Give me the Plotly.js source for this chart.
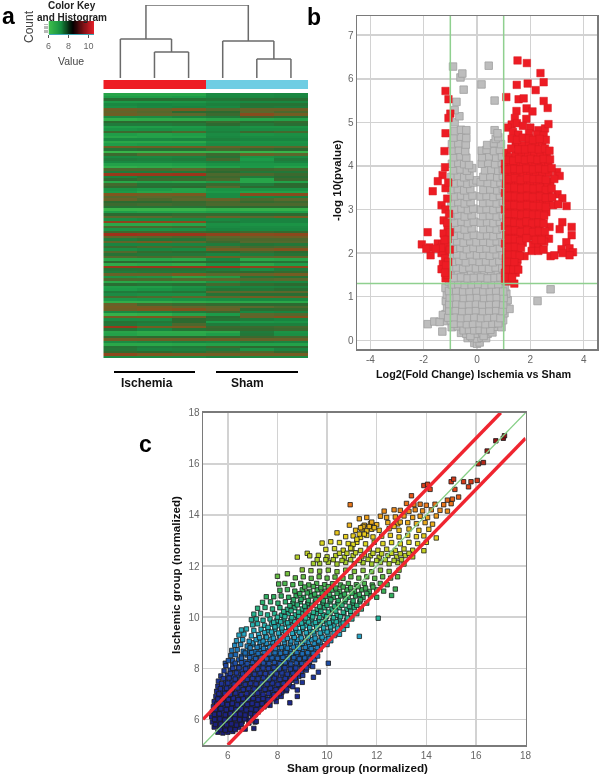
<!DOCTYPE html>
<html><head><meta charset="utf-8">
<script src="https://cdn.plot.ly/plotly-3.0.1.min.js"></script>
<style>html,body{margin:0;padding:0;background:#fff}#chart{width:600px;height:778px;filter:blur(0.5px)}</style>
</head><body><div id="chart"></div>
<script>
// Panel a: heatmap, rows top to bottom, columns I1 I2 I3 S1 S2 S3
const sampleColumns=[0,1,2,3,4,5];
const heatRowsTop=[
[6.5,6.5,6.5,7.2,7.2,7.3],[6.7,6.7,6.8,7.3,7.3,7.4],[7.9,7.9,7.8,7.7,7.9,7.9],[6.8,6.8,6.9,7.2,7.3,7.3],
[7.3,7.4,7.3,7.5,7.8,7.8],[7.1,7.3,7.4,7.3,7.7,7.6],[8.9,8.7,9.1,8.5,8.8,8.9],[8.7,8.5,8,8,8.6,8.4],
[8.9,8.7,8.6,8.2,9.4,9],[7.2,7.2,7.4,7.6,8.2,7.8],[6.2,6.3,6.3,6.5,6.5,6.6],[8,8,8,8.2,8,8.1],
[7.6,7.6,7.7,8,7.7,7.9],[6.7,6.7,6.8,7.2,7,7],[7,7.1,7,7.3,7.2,7.2],[8.2,8.2,8.4,7.5,8.2,8.3],
[6.7,6.6,6.7,7.2,7,7.1],[6.5,6.6,6.6,7.3,7.2,7.2],[7.3,7.3,7.4,7.5,7.4,7.4],[6.4,6.4,6.4,7,7,7],
[6.7,6.8,6.8,7.2,7.1,7.1],[8.9,8.9,9,8.8,8.8,8.6],[7.8,7.9,7.9,8.3,8.1,8],[5.9,5.9,6,6.1,6,6],
[8.2,8.5,8.5,8.2,8.8,8.6],[7.3,7.3,7.4,7.8,7,7.2],[7.6,7.5,7.6,8.3,6.8,7.6],[7.3,7.3,7.3,7.4,7.1,7.4],
[6.6,6.6,6.7,7,6.9,6.9],[6.2,6.3,6.4,6.6,6.8,6.6],[8.4,8.4,8.6,8.2,8.2,8.3],[7.6,7.6,7.7,8,7.7,7.7],
[9.8,9.8,9.9,8.4,8.4,8.2]];
const heatRowsMiddle=[
[7.5,7.8,7.8,8.2,7.6,7.9],[8,8.2,8.2,8.4,6.5,8.2],[6.4,6.6,6.5,6.8,6.5,6.6],[8.3,7.8,7.8,8.2,7.6,8],
[8.1,7.9,8,8.5,8,8],[7,6.8,6.6,7,7,7],[6.8,6.5,6.6,6.8,6.6,6.6],[9.2,9,9.1,7.2,9.4,9.4],
[8.5,8.6,8.5,7.2,7.4,7.5],[8.8,8.4,8.6,8.8,8.4,8.6],[8,8,8.1,8.3,8.1,8.2],[8.2,8.3,8.2,8.4,8.4,8.4],
[7.8,7.8,7.8,8,8,8],[5.9,6,6,6.2,6.1,6.1],[6.7,6.6,6.6,6.7,6.7,6.7],[8,8,8.1,8.1,8,8],
[8.6,8.6,8.4,8.8,8.6,9],[7.2,7.3,7.3,7.3,7.4,7.4],[9.6,9.5,9.4,7.6,7.4,7.4],[6.4,6.4,6.5,7.1,7,7],
[8.4,8.4,8.3,7.2,7.2,7.2],[7,7,7.1,7.4,7.3,7.3],[8.2,8.2,8.2,8.1,8.2,8.1],[10,9.9,9.9,9.6,9.4,9.5],
[8.6,8.5,8.4,8.6,8.8,8.9],[7.6,7.8,7.8,8.4,8.4,8.4],[8.7,9,8.6,8.2,8.5,8.5],[7.4,7.4,7.4,7.6,7.8,7.7],
[8.2,8.4,8.3,8.5,8.3,8.4],[7.2,7.4,7.3,9,8.9,9.3],[8.5,8.1,8,8,8.2,8],[7.8,7.7,7.7,7.4,7.6,7.8],
[8.5,8.4,8.5,8.9,8.6,8.8],[6.5,6.5,6.4,7.4,6.4,6.5],[8,7.9,8,8,7.8,7.8],[6.3,6.4,6.3,7,6.4,6.7],
[9.8,9.9,9.9,9.9,9.6,9.5],[7.8,7.8,7.8,7.6,7.2,7.6]];
const heatRowsBottom=[
[7.6,7.7,7.7,8,8,8.1],[8.8,8.8,9.1,8.6,8.8,9],[7,6.9,6.5,6.7,7.7,7.8],[8.4,8.4,8.5,8.6,8.5,8.6],
[6.4,6.5,6.5,7,7.3,7.3],[7.9,7.8,7.9,8.3,8.1,8],[6.7,6.7,7,7.4,7.4,7.5],[6.8,7,7.2,7.8,7.7,7.9],
[7.6,7.7,7.8,8.6,8.6,8.6],[7.2,7.1,7.1,7.8,7.9,7.9],[8.4,8.5,8.7,8.7,9,8.9],[6.9,7,7.1,7.2,7.3,7.3],
[6.2,6.2,6.3,6.4,6.4,6.4],[8.8,8.3,8.2,8.1,8,8],[9,9,8.7,8.6,8.6,8.4],[8.9,9.2,9.3,8.8,7.9,8.1],
[7.3,7.4,7.6,8.2,7.3,7.4],[6.1,6.2,6.5,6.8,8.6,8.5],[9,9.2,8.9,7.9,8.8,9.3],[7.2,7.2,8,7.8,7.6,7.4],
[7.8,7.7,8,6.8,6.9,7],[7.7,7.5,8.4,7.6,7.5,7.5],[9.8,9,9.1,8.2,8.2,8.3],[7.8,7.4,7.8,8.1,8.1,8.2],
[6.5,6.3,6.3,6.4,7.6,7],[6.6,6.4,6.4,6.7,7.7,7.1],[8.1,8,8,8.1,8.2,8.3],[8.9,8.9,8.9,8.9,8.8,8.8],
[7.2,7.3,7.4,7.3,7.5,7.4],[6.4,6.4,6.5,6.6,6.6,6.6],[7.8,7.6,7.7,8.2,8,8],[7.7,7.4,7.5,7.6,7,7.4],
[8.1,8,7.8,8.3,8.4,8.1],[9.5,9.2,9.1,9,9,9],[7.2,7.2,7.2,7.4,7.2,7.2]];
const sampleGroup=[[0,0,0,1,1,1]];
// Dendrogram segments, heights
const dendroX=[0,0,null,1,1,null,2,2,null,1,2,null,1.5,1.5,null,0,1.5,null,0.75,0.75,null,3,3,null,4,4,null,5,5,null,4,5,null,4.5,4.5,null,3,4.5,null,3.75,3.75,null,0.75,3.75];
const dendroH=[0,39,null,0,26,null,0,26,null,26,26,null,26,39,null,39,39,null,39,73,null,0,37,null,0,19,null,0,19,null,19,19,null,19,37,null,37,37,null,37,73,null,73,73];
// Colour key
const keyValues=[6,6.25,6.5,6.75,7,7.25,7.5,7.75,8,8.25,8.5,8.75,9,9.25,9.5,9.75,10,10.25,10.5];
// Panel b: x,y pairs
const greyPoints=[
-.1,-.06,0,-.08,.1,-.05,
-.35,.05,-.18,.07,0,.04,.17,.06,.34,.05,
-.6,.17,-.4,.15,-.2,.18,0,.15,.2,.17,.4,.15,.58,.18,
-.95,.3,-.72,.32,-.5,.29,-.27,.31,-.05,.3,.2,.32,.42,.29,.65,.31,.92,.3,
-1.2,.44,-.98,.46,-.74,.43,-.5,.46,-.26,.44,-.02,.46,.22,.43,.46,.46,.7,.44,.98,.46,
-1.18,.6,-.93,.62,-.68,.58,-.44,.61,-.2,.59,.05,.62,.3,.58,.55,.61,.8,.6,1.03,.62,
-1.12,.75,-.88,.77,-.62,.74,-.38,.76,-.13,.75,.12,.77,.36,.74,.62,.77,.87,.74,1.1,.76,
-1.17,.9,-.92,.92,-.68,.89,-.42,.92,-.18,.9,.08,.91,.32,.89,.56,.92,.82,.9,1.15,.92,
-1.13,1.05,-.88,1.07,-.62,1.04,-.38,1.07,-.13,1.05,.12,1.06,.38,1.04,.63,1.07,.88,1.05,1.1,1.07,
-1.18,1.2,-.93,1.22,-.7,1.19,-.45,1.22,-.2,1.2,.05,1.21,.3,1.19,.55,1.22,.8,1.2,1.05,1.22,
-1.05,1.35,-.82,1.37,-.58,1.34,-.33,1.37,-.08,1.35,.17,1.36,.42,1.34,.67,1.37,.92,1.35,
-.98,1.5,-.72,1.52,-.47,1.49,-.22,1.52,.03,1.5,.28,1.51,.53,1.49,.78,1.52,.98,1.5,
-.97,1.65,-.77,1.67,-.52,1.64,-.28,1.67,-.04,1.65,.2,1.66,.45,1.64,.7,1.67,.95,1.65,
-.9,1.8,-.66,1.82,-.42,1.79,-.16,1.82,.1,1.8,.34,1.81,.6,1.79,.84,1.82,
-.97,1.95,-.75,1.97,-.5,1.94,-.26,1.97,0,1.95,.24,1.96,.48,1.94,.74,1.97,.96,1.95,
-.88,2.1,-.62,2.12,-.38,2.09,-.13,2.12,.12,2.1,.36,2.11,.62,2.09,.86,2.12,
-.97,2.25,-.74,2.27,-.5,2.24,-.25,2.27,-.02,2.25,.24,2.26,.5,2.24,.74,2.27,.96,2.25,
-.86,2.4,-.6,2.42,-.36,2.39,-.12,2.42,.14,2.4,.38,2.41,.62,2.39,.88,2.42,
-.95,2.55,-.72,2.57,-.46,2.54,-.2,2.57,.24,2.55,.5,2.56,.74,2.54,.96,2.57,
-.84,2.7,-.58,2.72,-.34,2.69,-.12,2.72,.14,2.7,.38,2.71,.62,2.69,.86,2.72,
-.96,2.85,-.72,2.87,-.46,2.84,-.2,2.87,.22,2.85,.48,2.86,.74,2.84,.97,2.87,
-.84,3,-.58,3.02,-.34,2.99,-.14,3.02,.15,3,.36,3.01,.62,2.99,.86,3.02,
-.96,3.15,-.7,3.17,-.46,3.14,-.24,3.17,.23,3.15,.48,3.16,.74,3.14,.97,3.17,
-.84,3.3,-.6,3.32,-.36,3.29,-.17,3.32,.14,3.3,.36,3.31,.62,3.29,.86,3.32,
-.96,3.45,-.72,3.47,-.48,3.44,-.25,3.47,.24,3.45,.5,3.46,.76,3.44,.97,3.47,
-.84,3.6,-.6,3.62,-.36,3.59,-.15,3.62,-.02,3.67,.14,3.63,.4,3.61,.66,3.59,.88,3.62,
-.96,3.75,-.72,3.77,-.48,3.74,-.28,3.77,.24,3.75,.5,3.76,.76,3.74,.97,3.77,
-.86,3.9,-.62,3.92,-.38,3.89,-.18,3.95,.3,3.9,.54,3.91,.8,3.89,.97,3.92,
-.94,4.05,-.7,4.07,-.48,4.04,-.3,4.02,.18,4.05,.42,4.07,.68,4.04,.93,4.07,
-.86,4.2,-.62,4.22,-.4,4.19,.2,4.2,.46,4.22,.72,4.19,.94,4.22,
-.9,4.35,-.68,4.37,-.44,4.34,.18,4.35,.36,4.37,.64,4.34,.86,4.37,
-.94,4.5,-.7,4.52,-.42,4.49,.38,4.48,.64,4.52,.9,4.5,
-.88,4.65,-.6,4.67,-.4,4.64,.7,4.62,.8,4.66,
-.84,4.8,-.6,4.83,-.4,4.82,.66,4.82,.77,4.75,
-.84,5,-.66,5.14,-.84,5.28,-.77,5.47,-.5,5.75,-.62,6.03,-.55,6.12,-.9,6.28,
.17,5.87,.44,6.3,.66,5.5,
-1.85,.37,-1.6,.43,2.76,1.17,2.27,.9,-1.4,.42,-1.28,.58,-1.3,.2,1.22,.72];
const greyFill=[
-.25,.1,.25,.1,-.5,.23,-.3,.24,-.1,.23,.1,.24,.3,.23,.5,.24,
-.85,.38,-.6,.39,-.38,.37,-.15,.38,.1,.39,.32,.37,.58,.38,.8,.39,
-1.08,.52,-.85,.53,-.6,.51,-.35,.52,-.1,.53,.15,.51,.4,.52,.65,.53,.88,.51,
-1.04,.68,-.8,.69,-.55,.67,-.3,.68,-.04,.69,.22,.67,.46,.68,.72,.69,.96,.67,
-1.04,.83,-.78,.84,-.54,.82,-.3,.83,-.04,.84,.2,.82,.46,.83,.72,.84,.98,.82,
-1.02,.98,-.76,.99,-.5,.97,-.26,.98,0,.99,.26,.97,.5,.98,.74,.99,1,.97,
-1.05,1.13,-.78,1.14,-.52,1.12,-.28,1.13,-.02,1.14,.24,1.12,.48,1.13,.72,1.14,.98,1.12,
-.94,1.28,-.7,1.29,-.46,1.27,-.2,1.28,.05,1.29,.3,1.27,.55,1.28,.8,1.29,
-.85,1.43,-.6,1.44,-.35,1.42,-.12,1.43,.15,1.44,.4,1.42,.66,1.43,.88,1.44];
const redPoints=[
-1.18,5.72,-1.07,5.53,-1,5.2,-1.07,5.1,-1.18,4.75,-1.22,4.34,-1.2,3.97,-1.29,3.79,-1.47,3.65,-1.18,3.49,-1.66,3.42,
-1.08,3.62,-1.12,3.25,-1.33,3.1,-1.18,3.0,-1.25,2.75,-1.1,2.6,-1.25,2.45,-1.1,2.32,-1.85,2.48,-2.07,2.2,-1.78,2.13,-1.74,1.95,-1.9,2.1,
-1.47,2.22,-1.3,2.2,-1.15,2.16,-1.2,2.03,-1.33,2.0,-1.2,1.88,-1.28,1.75,-1.33,1.63,-1.15,1.6,-1.18,1.42,-1.1,1.5,
1.52,6.42,1.87,6.36,2.38,6.13,1.49,5.86,1.9,5.89,2.5,5.92,2.2,5.74,1.1,5.58,1.56,5.53,1.75,5.55,2.5,5.49,2.65,5.33,1.48,5.26,1.86,5.32,2.08,5.25,
1.42,5.1,1.85,5.08,1.3,4.95,1.5,4.98,1.72,4.92,2,4.88,2.3,4.82,2.55,4.86,2.68,4.96,1.15,4.88,
1.35,4.78,1.55,4.72,1.95,4.75,2.25,4.72,2.5,4.7,1.12,4.3,
1.45,4.5,1.7,4.48,1.95,4.52,2.2,4.46,2.45,4.55,2.58,4.6,
1.05,4.05,1.25,4.2,1.45,4.25,1.68,4.3,1.92,4.26,2.15,4.3,2.38,4.24,2.62,4.28,
1.05,3.92,1.28,4,1.5,4.05,1.73,4,1.95,4.05,2.2,4.02,2.42,4.06,2.68,4.05,
1.1,3.75,1.3,3.82,1.52,3.78,1.75,3.84,2,3.8,2.22,3.83,2.45,3.78,2.7,3.84,3,3.86,3.1,3.77,2.75,3.65,2.9,3.7,
1.08,3.58,1.3,3.62,1.55,3.56,1.78,3.62,2,3.58,2.25,3.63,2.48,3.57,2.62,3.52,
1.05,3.38,1.28,3.42,1.5,3.36,1.75,3.42,1.98,3.38,2.2,3.42,2.45,3.36,2.7,3.33,3.02,3.35,3.2,3.26,
1.1,3.2,1.32,3.22,1.55,3.16,1.78,3.22,2,3.18,2.25,3.22,2.48,3.16,2.7,3.16,2.85,3.1,3.36,3.08,3.05,3.12,
1.05,3,1.28,3.02,1.5,2.96,1.75,3.02,1.98,2.98,2.2,3.02,2.42,2.96,2.6,2.94,
1.1,2.8,1.32,2.82,1.55,2.76,1.78,2.82,2,2.78,2.22,2.82,2.42,2.76,3.2,2.71,3.55,2.6,
1.05,2.62,1.28,2.62,1.5,2.58,1.72,2.64,1.95,2.58,2.18,2.62,2.35,2.56,2.72,2.6,3.1,2.55,
1.1,2.42,1.32,2.44,1.55,2.38,1.78,2.44,2,2.38,2.22,2.42,2.45,2.4,2.7,2.33,3.55,2.41,
1.05,2.22,1.28,2.24,1.5,2.18,1.72,2.24,2.1,2.2,2.3,2.18,2.52,2.26,3.35,2.25,
1.1,2.04,1.32,2.06,1.55,2.02,2.05,2.05,2.3,2.05,2.5,2.08,3.17,2.09,3.47,2.11,3.6,2.02,3.47,1.95,3.2,2,2.76,1.93,2.9,1.95,1.78,1.93,
1.08,1.88,1.3,1.88,1.52,1.85,1.08,1.72,1.3,1.7,1.5,1.7,1.05,1.55,1.25,1.52,1.45,1.55,1.05,1.38,1.2,1.35,1.4,1.3];
const redFill=[
-1.05,2.9,-1.12,2.7,-1.02,2.48,-1.22,2.3,-1.02,2.08,-1.35,2.12,-1.55,2.1,-1.08,1.8,-1.16,1.72,-1.2,1.55,
1.3,4.62,1.5,4.6,1.72,4.65,1.95,4.63,2.1,4.6,2.35,4.62,
1.28,4.4,1.55,4.38,1.8,4.38,2.05,4.4,2.32,4.38,2.55,4.4,2.72,4.35,
1.16,4.14,1.36,4.12,1.58,4.16,1.8,4.14,2.03,4.16,2.27,4.14,2.5,4.16,2.74,4.15,
1.16,3.92,1.4,3.93,1.62,3.92,1.85,3.94,2.1,3.92,2.33,3.94,2.56,3.92,2.8,3.95,
1.2,3.7,1.42,3.72,1.64,3.68,1.88,3.72,2.12,3.7,2.35,3.7,2.58,3.68,
1.18,3.5,1.4,3.5,1.66,3.48,1.88,3.5,2.12,3.48,2.36,3.5,2.58,3.45,2.8,3.48,
1.18,3.3,1.42,3.3,1.64,3.28,1.88,3.3,2.1,3.28,2.36,3.3,2.58,3.27,2.82,3.28,
1.18,3.1,1.4,3.1,1.64,3.08,1.88,3.1,2.12,3.08,2.36,3.08,2.58,3.06,
1.18,2.9,1.42,2.9,1.66,2.88,1.88,2.9,2.1,2.88,2.32,2.88,2.52,2.86,
1.18,2.72,1.4,2.7,1.62,2.68,1.85,2.72,2.08,2.68,2.3,2.7,2.5,2.68,
1.2,2.52,1.42,2.52,1.64,2.48,1.88,2.52,2.1,2.48,2.32,2.5,2.55,2.5,
1.18,2.32,1.42,2.32,1.62,2.28,1.85,2.34,2.2,2.3,2.42,2.3,
1.2,2.13,1.42,2.14,1.65,2.12,1.2,1.96,1.42,1.96,1.6,1.94,1.18,1.8,1.4,1.79,1.15,1.62,1.36,1.62,1.55,1.62,1.15,1.45,1.32,1.44];
// Panel c: Sham x, Ischemic y pairs
const cLow=[
5.6,5.5,5.8,5.47,6,5.5,6.2,5.53,
5.45,5.7,5.65,5.72,5.85,5.67,6.05,5.7,6.25,5.74,6.45,5.68,6.7,5.62,
5.38,5.9,5.58,5.93,5.78,5.87,5.98,5.91,6.18,5.94,6.38,5.88,6.58,5.92,6.85,5.86,
5.35,6.1,5.55,6.13,5.75,6.07,5.95,6.11,6.15,6.14,6.35,6.08,6.55,6.12,6.75,6.06,7,6.1,7.15,5.92,
5.38,6.3,5.6,6.33,5.8,6.27,6,6.31,6.2,6.34,6.4,6.28,6.6,6.32,6.8,6.27,7,6.33,7.22,6.29,
5.42,6.5,5.62,6.53,5.84,6.47,6.04,6.52,6.24,6.46,6.44,6.54,6.64,6.48,6.84,6.52,7.04,6.47,7.24,6.53,7.46,6.49,
5.45,6.7,5.67,6.73,5.88,6.67,6.08,6.72,6.28,6.66,6.48,6.74,6.68,6.68,6.88,6.72,7.08,6.67,7.28,6.73,7.48,6.68,7.7,6.72,7.95,6.7,
5.52,6.9,5.72,6.93,5.92,6.87,6.12,6.92,6.32,6.86,6.52,6.94,6.72,6.88,6.92,6.92,7.12,6.87,7.32,6.93,7.52,6.88,7.74,6.92,7.96,6.87,8.15,6.9,
5.55,7.1,5.78,7.13,5.98,7.07,6.2,7.12,6.42,7.06,6.64,7.14,6.86,7.08,7.08,7.12,7.3,7.07,7.52,7.13,7.74,7.08,7.96,7.12,8.18,7.07,8.36,7.12,
5.6,7.3,5.84,7.33,6.06,7.27,6.28,7.32,6.5,7.26,6.72,7.34,6.94,7.28,7.16,7.32,7.38,7.27,7.6,7.33,7.82,7.28,8.04,7.32,8.26,7.27,8.48,7.33,8.62,7.28,
5.62,7.5,5.9,7.53,6.14,7.47,6.36,7.52,6.58,7.46,6.8,7.54,7.02,7.48,7.24,7.52,7.46,7.47,7.68,7.53,7.9,7.48,8.12,7.52,8.34,7.47,8.56,7.53,8.76,7.48,
5.72,7.7,5.98,7.73,6.22,7.67,6.44,7.72,6.66,7.66,6.88,7.74,7.1,7.68,7.32,7.72,7.54,7.67,7.76,7.73,7.98,7.68,8.2,7.72,8.42,7.67,8.64,7.73,8.86,7.68,9.02,7.72,
5.85,7.9,6.1,7.93,6.32,7.87,6.54,7.92,6.76,7.86,6.98,7.94,7.2,7.88,7.42,7.92,7.64,7.87,7.86,7.93,8.08,7.88,8.3,7.92,8.52,7.87,8.74,7.93,8.96,7.88,9.16,7.93,
5.92,8.1,6.02,8.3,6.2,8.13,6.42,8.07,6.64,8.12,6.86,8.06,7.08,8.14,7.3,8.08,7.52,8.12,7.74,8.07,7.96,8.13,8.18,8.08,8.4,8.12,8.62,8.07,8.84,8.13,9.06,8.08,9.28,8.12,9.42,8.07,
6.2,8.3,6.44,8.33,6.66,8.27,6.88,8.32,7.1,8.26,7.32,8.34,7.54,8.28,7.76,8.32,7.98,8.27,8.2,8.33,8.42,8.28,8.64,8.32,8.86,8.27,9.08,8.33,9.3,8.28,9.5,8.33,
6.12,8.5,6.32,8.53,6.56,8.47,6.78,8.52,7,8.46,7.22,8.54,7.44,8.48,7.66,8.52,7.88,8.47,8.1,8.53,8.32,8.48,8.54,8.52,8.76,8.47,8.98,8.53,9.2,8.48,9.42,8.53,9.62,8.48,
6.16,8.7,6.38,8.73,6.62,8.67,6.86,8.72,7.1,8.66,7.32,8.74,7.56,8.68,7.8,8.72,8.04,8.67,8.28,8.73,8.52,8.68,8.76,8.72,9,8.67,9.24,8.73,9.48,8.68,9.72,8.73,
6.28,8.9,6.52,8.93,6.78,8.87,7.02,8.92,7.28,8.86,7.52,8.94,7.78,8.88,8.02,8.92,8.28,8.87,8.52,8.93,8.78,8.88,9.02,8.92,9.28,8.87,9.52,8.93,9.78,8.88,10,8.93];
const cLowFill=[
5.7,5.6,5.9,5.58,6.1,5.62,6.3,5.6,
5.5,5.8,5.72,5.82,5.95,5.79,6.15,5.83,6.35,5.78,6.55,5.81,
5.47,6,5.68,6.02,5.88,5.98,6.08,6.01,6.28,6.03,6.48,5.99,6.68,6.02,6.9,5.97,
5.46,6.2,5.66,6.22,5.9,6.18,6.1,6.23,6.3,6.19,6.5,6.21,6.7,6.17,6.92,6.22,7.1,6.18,
5.5,6.4,5.72,6.42,5.94,6.38,6.14,6.43,6.34,6.39,6.54,6.42,6.74,6.37,6.94,6.41,7.14,6.38,7.34,6.42,
5.55,6.6,5.78,6.62,5.98,6.58,6.18,6.63,6.38,6.57,6.58,6.61,6.78,6.59,6.98,6.63,7.18,6.58,7.38,6.62,7.58,6.57,
5.6,6.8,5.82,6.82,6.02,6.78,6.22,6.83,6.42,6.77,6.62,6.81,6.82,6.79,7.02,6.83,7.22,6.78,7.42,6.82,7.62,6.77,7.85,6.81,
5.64,7,5.88,7.02,6.1,6.98,6.32,7.03,6.54,6.97,6.76,7.01,6.98,6.99,7.2,7.03,7.42,6.98,7.64,7.02,7.86,6.97,8.08,7.01,
5.7,7.2,5.95,7.22,6.18,7.18,6.4,7.23,6.62,7.17,6.84,7.21,7.06,7.19,7.28,7.23,7.5,7.18,7.72,7.22,7.94,7.17,8.16,7.21,8.38,7.19,
5.75,7.4,6,7.42,6.25,7.38,6.47,7.43,6.7,7.37,6.92,7.41,7.14,7.39,7.36,7.43,7.58,7.38,7.8,7.42,8.02,7.37,8.24,7.41,8.46,7.39,
5.82,7.6,6.05,7.62,6.3,7.58,6.55,7.63,6.78,7.57,7,7.61,7.22,7.59,7.44,7.63,7.66,7.58,7.88,7.62,8.1,7.57,8.32,7.61,8.54,7.59,8.72,7.62,
6.1,7.8,6.35,7.82,6.6,7.78,6.85,7.83,7.08,7.77,7.3,7.81,7.52,7.79,7.74,7.83,7.96,7.78,8.18,7.82,8.4,7.77,8.62,7.81,8.84,7.79,
6.2,8,6.45,8.02,6.72,7.98,6.96,8.03,7.2,7.97,7.42,8.01,7.64,7.99,7.86,8.03,8.08,7.98,8.3,8.02,8.52,7.97,8.74,8.01,8.96,7.99,9.18,8.02,
6.3,8.2,6.55,8.22,6.78,8.18,7,8.23,7.22,8.17,7.44,8.21,7.66,8.19,7.88,8.23,8.1,8.18,8.32,8.22,8.54,8.17,8.76,8.21,8.98,8.19,9.2,8.22,
6.55,8.4,6.88,8.42,7.12,8.38,7.34,8.43,7.56,8.37,7.78,8.41,8,8.39,8.22,8.43,8.44,8.38,8.66,8.42,8.88,8.37,9.1,8.41,9.32,8.39,
6.7,8.6,6.96,8.62,7.22,8.58,7.46,8.63,7.68,8.57,7.9,8.61,8.12,8.59,8.34,8.63,8.56,8.58,8.78,8.62,9,8.57,9.22,8.61,9.44,8.59,
6.9,8.8,7.18,8.82,7.44,8.78,7.68,8.83,7.92,8.77,8.16,8.81,8.4,8.79,8.64,8.83,8.88,8.78,9.12,8.82,9.36,8.77,9.6,8.81,
7,9,7.3,9.02,7.56,8.98,7.8,9.03,8.04,8.97,8.28,9.01,8.52,8.99,8.76,9.03,9,8.98,9.24,9.02,9.48,8.97,9.72,9.01];
const cMid=[
6.35,9.08,6.6,9.12,6.86,9.06,7.14,9.12,7.42,9.07,7.7,9.13,7.98,9.06,8.26,9.12,8.54,9.07,8.82,9.13,9.1,9.07,9.38,9.12,9.66,9.07,9.94,9.13,10.15,9.08,
6.45,9.3,6.65,9.34,6.95,9.27,7.24,9.32,7.52,9.26,7.8,9.33,8.08,9.28,8.36,9.32,8.64,9.27,8.92,9.33,9.2,9.28,9.48,9.33,9.76,9.27,10.04,9.33,10.3,9.28,10.5,9.33,
6.55,9.5,6.75,9.54,7.05,9.48,7.34,9.53,7.62,9.47,7.9,9.53,8.18,9.48,8.46,9.52,8.74,9.47,9.02,9.53,9.3,9.48,9.58,9.53,9.86,9.47,10.14,9.53,10.42,9.48,10.66,9.53,
7,9.7,7.2,9.74,7.48,9.68,7.76,9.73,8.04,9.67,8.32,9.73,8.6,9.68,8.88,9.72,9.16,9.67,9.44,9.73,9.72,9.68,10,9.73,10.28,9.67,10.56,9.73,10.8,9.68,
6.95,9.9,7.15,9.93,7.42,9.88,7.7,9.93,7.98,9.87,8.26,9.93,8.54,9.88,8.82,9.92,9.1,9.87,9.38,9.93,9.66,9.88,9.94,9.93,10.22,9.87,10.5,9.93,10.78,9.88,11,9.93,12.06,9.96,
7.05,10.12,7.32,10.15,7.6,10.09,7.88,10.14,8.16,10.08,8.44,10.14,8.72,10.09,9,10.13,9.28,10.08,9.56,10.14,9.84,10.09,10.12,10.14,10.4,10.08,10.68,10.14,10.96,10.09,11.2,10.14,
7.2,10.35,7.5,10.38,7.8,10.32,8.1,10.37,8.4,10.31,8.7,10.37,9,10.32,9.3,10.36,9.6,10.31,9.9,10.37,10.2,10.32,10.5,10.37,10.8,10.31,11.1,10.37,11.38,10.32,
7.4,10.58,7.55,10.8,7.72,10.6,8.02,10.55,8.32,10.6,8.62,10.55,8.92,10.6,9.22,10.54,9.52,10.6,9.82,10.55,10.12,10.6,10.42,10.54,10.72,10.6,11.02,10.55,11.32,10.6,11.6,10.55,
7.85,10.8,8.15,10.83,8.45,10.78,8.75,10.83,9.05,10.77,9.35,10.83,9.65,10.78,9.95,10.82,10.25,10.77,10.55,10.83,10.85,10.78,11.15,10.83,11.45,10.77,11.75,10.83,12,10.78,12.6,10.85,
8.1,11.05,8.4,11.08,8.7,11.02,9,11.07,9.3,11.01,9.6,11.07,9.9,11.02,10.2,11.06,10.5,11.01,10.8,11.07,11.1,11.02,11.4,11.07,11.7,11.01,12,11.07,12.28,11.02,12.75,11.1,
8.05,11.3,8.3,11.32,8.62,11.27,8.94,11.32,9.26,11.26,9.58,11.32,9.9,11.27,10.22,11.31,10.54,11.26,10.86,11.32,11.18,11.27,11.5,11.32,11.82,11.26,12.14,11.32,12.42,11.27,
8,11.6,8.4,11.7,8.72,11.54,9.04,11.58,9.36,11.52,9.68,11.58,10,11.53,10.32,11.57,10.64,11.52,10.96,11.58,11.28,11.53,11.6,11.58,11.92,11.52,12.24,11.58,12.56,11.53,12.84,11.58,
9,11.85,9.35,11.82,9.7,11.8,10.05,11.84,10.4,11.78,10.75,11.84,11.1,11.79,11.45,11.83,11.8,11.78,12.15,11.84,12.5,11.79,12.9,11.84];
const cMidFill=[
7.28,9.2,7.56,9.22,7.84,9.18,8.12,9.23,8.4,9.17,8.68,9.21,8.96,9.19,9.24,9.23,9.52,9.18,9.8,9.22,10.08,9.17,
7.48,9.4,7.76,9.42,8.04,9.38,8.32,9.43,8.6,9.37,8.88,9.41,9.16,9.39,9.44,9.43,9.72,9.38,10,9.42,10.28,9.37,
7.62,9.6,7.9,9.62,8.18,9.58,8.46,9.63,8.74,9.57,9.02,9.61,9.3,9.59,9.58,9.63,9.86,9.58,10.14,9.62,10.42,9.57,
7.85,9.8,8.13,9.82,8.41,9.78,8.69,9.83,8.97,9.77,9.25,9.81,9.53,9.79,9.81,9.83,10.09,9.78,10.37,9.82,10.65,9.77,
8,10,8.3,10.02,8.58,9.98,8.86,10.03,9.14,9.97,9.42,10.01,9.7,9.99,9.98,10.03,10.26,9.98,10.54,10.02,10.82,9.97,
8.25,10.22,8.55,10.25,8.85,10.2,9.15,10.24,9.45,10.19,9.75,10.23,10.05,10.2,10.35,10.24,10.65,10.19,10.95,10.23,
8.5,10.45,8.8,10.48,9.1,10.43,9.4,10.47,9.7,10.42,10,10.46,10.3,10.43,10.6,10.47,10.9,10.42,11.2,10.46,
8.65,10.68,8.95,10.7,9.25,10.65,9.55,10.69,9.85,10.64,10.15,10.68,10.45,10.65,10.75,10.69,11.05,10.64,11.35,10.68,
8.9,10.92,9.2,10.95,9.5,10.9,9.8,10.94,10.1,10.89,10.4,10.93,10.7,10.9,11,10.94,11.3,10.89,11.6,10.93,
9.1,11.18,9.45,11.2,9.75,11.15,10.05,11.19,10.35,11.14,10.65,11.18,10.95,11.15,11.25,11.19,11.55,11.14,11.85,11.18];
const cHigh=[
8.8,12.35,9.2,12.5,9.45,12.1,9.8,12.9,9.7,12.1,10.05,12.15,10.4,12.08,10.75,12.14,11.1,12.09,11.45,12.13,11.8,12.08,12.15,12.14,12.5,12.09,12.85,12.14,13.1,12.08,
9.3,12.4,9.65,12.42,10,12.36,10.35,12.41,10.7,12.35,11.05,12.41,11.4,12.36,11.75,12.4,12.1,12.35,12.45,12.41,12.8,12.36,13.15,12.41,13.45,12.36,
9.95,12.65,10.3,12.68,10.65,12.62,11,12.67,11.35,12.61,11.7,12.67,12.05,12.62,12.4,12.66,12.75,12.61,13.1,12.67,13.45,12.62,13.9,12.6,
10.15,12.95,10.5,12.92,10.85,12.88,11.2,12.93,11.55,12.87,11.9,12.93,12.25,12.88,12.6,12.92,12.95,12.87,13.3,12.93,13.65,12.88,14,12.93,
10.4,13.3,10.75,13.15,11.05,13.18,11.35,13.12,11.6,13.2,11.85,13.14,12.2,13.17,12.55,13.2,12.9,13.14,13.25,13.2,13.6,13.15,14.4,13.1,13.9,13.18,
10.9,13.6,11.15,13.4,11.4,13.45,11.6,13.38,11.8,13.44,12.1,13.4,12.5,13.46,12.9,13.4,13.3,13.45,13.7,13.4,14.1,13.44,
11.3,13.85,11.6,13.9,11.5,13.6,11.75,13.66,12,13.62,12.45,13.7,12.85,13.65,13.25,13.7,13.6,13.66,13.95,13.7,14.25,13.64,
12.15,13.95,12.4,13.9,12.75,13.92,13.1,13.96,13.45,13.9,13.75,13.95,14.05,13.9,14.4,13.96,
12.3,14.15,12.7,14.2,12.95,14.18,13.3,14.14,13.55,14.2,13.85,14.16,14.2,14.2,14.55,14.18,14.85,14.15,
13.2,14.45,13.5,14.4,13.75,14.42,14,14.38,14.35,14.42,14.7,14.4,15,14.44,15.05,14.62,15.3,14.7,14.85,14.58,
10.93,14.4,13.4,14.75,13.9,15.15,14.05,15.2,14.15,15,15,15.3,15.1,15.4,15.15,15,15.5,15.3,15.8,15.3,15.7,15.1,16.05,15.35,
16.1,16,16.3,16.05,16.45,16.5,16.8,16.9,17.1,17,17.15,17.1,
11.45,13.55,11.7,13.55,11.35,13.5,11.8,13.72,11.9,13.5,11.5,13.25,11.3,13.25,11.2,13.05,11.05,12.85,10.95,12.7,12.7,13.55,12.95,13.72,
10.5,12.5,10.8,12.5,11.15,12.52,11.5,12.45,11.85,12.5,12.2,12.48,12.6,12.5,12.95,12.48,13.3,12.5,
9.6,12.25,9.95,12.25,10.25,12.25,10.6,12.22,10.95,12.25,11.3,12.22,11.65,12.26,12,12.22,12.35,12.25,12.7,12.22,13,12.25];
const cOutliers=[
5.9,8.2,8.5,6.65,8.8,7.15,8.8,6.9,9,7.45,9.45,7.65,9.65,7.85,10.05,8.2,11.3,9.25,7.05,5.65,7.1,5.9,7.7,6.55];
// Panel c guide lines
const guideX=[5,18];
const guideY=[5,18];
const upperX=[5,17];
const upperY=[6,18];
const lowerX=[6,18];
const lowerY=[5,17];
// Threshold lines in panel b
const foldCutoffs=[-1,1];
const pCutoff=[1.3];

const pairX=a=>a.filter((_,i)=>i%2===0);
const pairY=a=>a.filter((_,i)=>i%2===1);
const hx=(a,b)=>[a/600,b/600];
const vy=(t,b)=>[1-b/778,1-t/778];
const FONT='"Liberation Sans",Arial,sans-serif';
const heatRows=heatRowsTop.concat(heatRowsMiddle,heatRowsBottom);
const heatScale=[[0,'#38b44a'],[0.2,'#1c9a48'],[0.35,'#1a8440'],[0.5,'#2c6a30'],[0.65,'#5c672c'],[0.8,'#80561f'],[1,'#a0301a']];
const cScale=[[0,'#1a1c78'],[0.13,'#1e2b92'],[0.217,'#1f3fa0'],[0.27,'#1d6fb8'],[0.33,'#25a8c8'],[0.391,'#25b59a'],[0.46,'#2fae60'],[0.52,'#55b848'],[0.565,'#9ccb2e'],[0.652,'#e5d81e'],[0.739,'#f09a1a'],[0.826,'#e0421a'],[1,'#8e0f14']];
const cAll=cOutliers.concat(cLow,cLowFill,cMid,cMidFill,cHigh);
const greyAll=greyPoints.concat(greyFill);
const redAll=redPoints.concat(redFill);
const numberTicks=v=>v.map(String);

const traces=[
 {type:'heatmap',x:sampleColumns,z:heatRows,zmin:6,zmax:10,colorscale:heatScale,showscale:false,xaxis:'x',yaxis:'y',hoverinfo:'skip'},
 {type:'heatmap',x:sampleColumns,z:sampleGroup,zmin:0,zmax:1,colorscale:[[0,'#ed1c24'],[1,'#6ecde3']],showscale:false,xaxis:'x',yaxis:'y3',hoverinfo:'skip'},
 {type:'scatter',mode:'lines',x:dendroX,y:dendroH,line:{color:'#6a6a6a',width:1.5},xaxis:'x',yaxis:'y2',hoverinfo:'skip'},
 {type:'heatmap',x:keyValues,y:[0,1],z:[keyValues,keyValues],zmin:6,zmax:10.5,zsmooth:'best',colorscale:[[0,'#3dbd4c'],[0.25,'#169040'],[0.52,'#000000'],[0.75,'#7a1015'],[1,'#e8202a']],showscale:false,xaxis:'x6',yaxis:'y6',hoverinfo:'skip'},
 {type:'scatter',mode:'markers',x:pairX(greyAll),y:pairY(greyAll),marker:{symbol:'square',size:7.5,color:'#bdbdbd',line:{color:'#a0a0a0',width:0.8}},xaxis:'x4',yaxis:'y4',hoverinfo:'skip'},
 {type:'scatter',mode:'markers',x:pairX(redAll),y:pairY(redAll),marker:{symbol:'square',size:7.5,color:'#ed1c24',line:{color:'#d81a20',width:0.5}},xaxis:'x4',yaxis:'y4',hoverinfo:'skip'},
 {type:'scatter',mode:'markers',x:pairX(cAll),y:pairY(cAll),marker:{symbol:'square',size:4.4,color:pairY(cAll),cmin:5.5,cmax:17,colorscale:cScale,line:{color:'#1a1a1a',width:0.8}},xaxis:'x5',yaxis:'y5',hoverinfo:'skip'},
 {type:'scatter',mode:'lines',x:guideX,y:guideY,line:{color:'#86cf86',width:1.3},xaxis:'x5',yaxis:'y5',hoverinfo:'skip'},
 {type:'scatter',mode:'lines',x:upperX,y:upperY,line:{color:'#ef2530',width:3.4},xaxis:'x5',yaxis:'y5',hoverinfo:'skip',cliponaxis:false},
 {type:'scatter',mode:'lines',x:lowerX,y:lowerY,line:{color:'#ef2530',width:3.4},xaxis:'x5',yaxis:'y5',hoverinfo:'skip',cliponaxis:false}
];

const hidden={visible:false,fixedrange:true};
const frameAxis=(extra)=>Object.assign({showline:true,mirror:true,linecolor:'#7a7a7a',linewidth:1.5,showgrid:true,gridcolor:'#d2d2d2',gridwidth:1.5,zeroline:false,ticks:'',tickfont:{family:FONT,size:10,color:'#666'},fixedrange:true},extra);

const gc=(x)=>({type:'line',xref:'x4',yref:'paper',x0:x,x1:x,y0:1-349/778,y1:1-16/778,line:{color:'#8fd08f',width:1.5},layer:'above'});
const shapes=foldCutoffs.map(gc).concat(pCutoff.map(p=>({type:'line',xref:'paper',yref:'y4',x0:357/600,x1:597/600,y0:p,y1:p,line:{color:'#8fd08f',width:1.5},layer:'above'})));
shapes.push({type:'line',xref:'paper',yref:'paper',x0:114/600,x1:195/600,y0:1-372/778,y1:1-372/778,line:{color:'#000',width:2}});
shapes.push({type:'line',xref:'paper',yref:'paper',x0:216/600,x1:298/600,y0:1-372/778,y1:1-372/778,line:{color:'#000',width:2}});

const note=(text,x,y,size,color,angle)=>({text:text,xref:'paper',yref:'paper',x:x/600,y:1-y/778,xanchor:'center',yanchor:'middle',showarrow:false,textangle:angle||0,font:{family:FONT,size:size,color:color}});
const annotations=[
 note('<b>a</b>',8,16,23,'#000'),note('<b>b</b>',314,17,23,'#000'),note('<b>c</b>',145,444,23,'#000'),
 note('<b>Color Key</b>',72,6,10,'#222'),note('<b>and Histogram</b>',72,17,10,'#222'),
 note('Value',71,61,10.5,'#444'),note('Count',29,27,12,'#444',-90),
 note('<b>Ischemia</b>',147,383,12,'#111'),note('<b>Sham</b>',247,383,12,'#111'),
 note('<b>Sham group (normalized)</b>',357,767,11.7,'#111'),
 note('<b>Ischemic group (normalized)</b>',175,575,11.6,'#111',-90),
 note('<b>Log2(Fold Change) Ischemia vs Sham</b>',473,374,10.8,'#111'),
 note('<b>-log 10(pvalue)</b>',337,181,11.5,'#111',-90)
];

const bx=[-4,-2,0,2,4];
const cTicks=[6,8,10,12,14,16,18];
const layout={width:600,height:778,margin:{l:0,r:0,t:0,b:0},paper_bgcolor:'#fff',plot_bgcolor:'#fff',showlegend:false,shapes:shapes,annotations:annotations,
 xaxis:Object.assign({},hidden,{domain:hx(103.3,308),range:[-0.5,5.5]}),
 yaxis:Object.assign({},hidden,{domain:vy(93,358),range:[heatRows.length-0.5,-0.5]}),
 yaxis2:Object.assign({},hidden,{domain:vy(5,78),range:[0,73],anchor:'x'}),
 yaxis3:Object.assign({},hidden,{domain:vy(80,89),range:[0.5,-0.5],anchor:'x'}),
 xaxis4:frameAxis({domain:hx(357,597),range:[-4.5,4.5],tickvals:bx,ticktext:numberTicks(bx),anchor:'y4'}),
 yaxis4:frameAxis({domain:vy(16,349),range:[-0.2,7.44],tickvals:[0,1,2,3,4,5,6,7],anchor:'x4'}),
 xaxis5:frameAxis({domain:hx(203,525.6),range:[5,18],tickvals:cTicks,anchor:'y5'}),
 yaxis5:frameAxis({domain:vy(412.7,745),range:[5,18],tickvals:cTicks,anchor:'x5'}),
 xaxis6:{domain:hx(48.5,94),range:[6,10.55],anchor:'y6',tickvals:[6,8,10],ticks:'outside',ticklen:3,tickcolor:'#555',tickfont:{family:FONT,size:9,color:'#666'},showgrid:false,zeroline:false,showline:true,linecolor:'#3fa7b5',linewidth:1,fixedrange:true},
 yaxis6:{domain:vy(21,34),range:[0,1],anchor:'x6',tickvals:[0.1,0.2,0.3,0.4,0.5,0.6,0.7],showticklabels:false,ticks:'outside',ticklen:4,tickcolor:'#888',tickwidth:0.6,showgrid:false,zeroline:false,showline:false,fixedrange:true}
};
Plotly.newPlot('chart',traces,layout,{staticPlot:true,displayModeBar:false});
</script></body></html>
